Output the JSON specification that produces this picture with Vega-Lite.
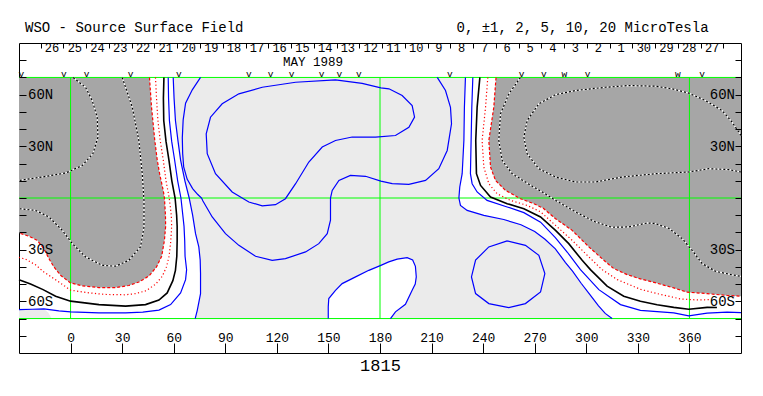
{
"$schema":"https://vega.github.io/schema/vega-lite/v6.json",
"width":722,"height":310,
"autosize":{"type":"none"},
"padding":{"left":19,"top":43,"right":22,"bottom":43},
"background":"white",
"config":{"view":{"stroke":"black","strokeWidth":1}},
"resolve":{"axis":{"x":"independent","y":"independent"}},
"datasets":{
"fills":[
{"p":"LG1","lon":59.7,"lat":70},{"p":"LG1","lon":229.7,"lat":70},{"p":"LG1","lon":229.1,"lat":52.7},{"p":"LG1","lon":228.8,"lat":33.4},{"p":"LG1","lon":227.8,"lat":14.1},{"p":"LG1","lon":226.4,"lat":6.4},{"p":"LG1","lon":225.9,"lat":0},{"p":"LG1","lon":226.8,"lat":-4.3},{"p":"LG1","lon":230.7,"lat":-7.2},{"p":"LG1","lon":240.4,"lat":-10.1},{"p":"LG1","lon":252,"lat":-12.5},{"p":"LG1","lon":262,"lat":-15.5},{"p":"LG1","lon":270,"lat":-19.5},{"p":"LG1","lon":276,"lat":-24},{"p":"LG1","lon":282,"lat":-29.5},{"p":"LG1","lon":287.9,"lat":-37.5},{"p":"LG1","lon":292,"lat":-42.5},{"p":"LG1","lon":297,"lat":-49.5},{"p":"LG1","lon":302,"lat":-56},{"p":"LG1","lon":307,"lat":-62.5},{"p":"LG1","lon":311,"lat":-67},{"p":"LG1","lon":315,"lat":-70},{"p":"LG1","lon":72.5,"lat":-70},{"p":"LG1","lon":73.7,"lat":-65.2},{"p":"LG1","lon":75.6,"lat":-55.5},{"p":"LG1","lon":75.6,"lat":-43.9},{"p":"LG1","lon":75.4,"lat":-36},{"p":"LG1","lon":74.6,"lat":-28.4},{"p":"LG1","lon":72.7,"lat":-20.7},{"p":"LG1","lon":71,"lat":-10},{"p":"LG1","lon":69,"lat":0},{"p":"LG1","lon":66.5,"lat":10},{"p":"LG1","lon":64,"lat":22},{"p":"LG1","lon":62.5,"lat":33},{"p":"LG1","lon":61,"lat":45},{"p":"LG1","lon":60.2,"lat":58},
{"p":"LG2","lon":-30,"lat":-64.8},{"p":"LG2","lon":-22,"lat":-64.6},{"p":"LG2","lon":-15.5,"lat":-64.4},{"p":"LG2","lon":-13,"lat":-66.5},{"p":"LG2","lon":-11,"lat":-70},{"p":"LG2","lon":-30,"lat":-70},
{"p":"WB","lon":149.9,"lat":-70},{"p":"WB","lon":149.9,"lat":-63.2},{"p":"WB","lon":150.2,"lat":-58.4},{"p":"WB","lon":154.1,"lat":-53.6},{"p":"WB","lon":158,"lat":-49.7},{"p":"WB","lon":165.8,"lat":-45.8},{"p":"WB","lon":173.5,"lat":-42},{"p":"WB","lon":180.5,"lat":-39.1},{"p":"WB","lon":185.1,"lat":-37.1},{"p":"WB","lon":190,"lat":-35.5},{"p":"WB","lon":195.8,"lat":-34.6},{"p":"WB","lon":199,"lat":-36},{"p":"WB","lon":200.6,"lat":-39.7},{"p":"WB","lon":201.1,"lat":-45.8},{"p":"WB","lon":200.5,"lat":-50},{"p":"WB","lon":198.7,"lat":-53.6},{"p":"WB","lon":194.8,"lat":-61.7},{"p":"WB","lon":189,"lat":-66.1},{"p":"WB","lon":186.1,"lat":-70},
{"p":"DA","lon":-30,"lat":70},{"p":"DA","lon":45.9,"lat":70},{"p":"DA","lon":47.1,"lat":52.7},{"p":"DA","lon":49,"lat":33.4},{"p":"DA","lon":50.4,"lat":22.2},{"p":"DA","lon":51.8,"lat":14.1},{"p":"DA","lon":53.9,"lat":4.4},{"p":"DA","lon":54.6,"lat":0},{"p":"DA","lon":55.2,"lat":-10},{"p":"DA","lon":55.3,"lat":-16.5},{"p":"DA","lon":54.6,"lat":-24.6},{"p":"DA","lon":53,"lat":-33.8},{"p":"DA","lon":50,"lat":-40},{"p":"DA","lon":45.6,"lat":-45.3},{"p":"DA","lon":39.7,"lat":-48.8},{"p":"DA","lon":33.9,"lat":-50.8},{"p":"DA","lon":26.2,"lat":-52},{"p":"DA","lon":16.5,"lat":-52},{"p":"DA","lon":6.8,"lat":-51},{"p":"DA","lon":0,"lat":-49.3},{"p":"DA","lon":-5.8,"lat":-44.9},{"p":"DA","lon":-9.7,"lat":-40},{"p":"DA","lon":-12.6,"lat":-35.2},{"p":"DA","lon":-15.5,"lat":-29.4},{"p":"DA","lon":-19.4,"lat":-24.6},{"p":"DA","lon":-24.2,"lat":-22.2},{"p":"DA","lon":-30,"lat":-20.3},
{"p":"DB","lon":247.5,"lat":70},{"p":"DB","lon":390,"lat":70},{"p":"DB","lon":390,"lat":-57},{"p":"DB","lon":381.9,"lat":-56.6},{"p":"DB","lon":370.3,"lat":-55.5},{"p":"DB","lon":358.7,"lat":-54.7},{"p":"DB","lon":350.9,"lat":-52.2},{"p":"DB","lon":341.2,"lat":-49.5},{"p":"DB","lon":331.5,"lat":-47},{"p":"DB","lon":323.8,"lat":-44.5},{"p":"DB","lon":316,"lat":-41},{"p":"DB","lon":311.2,"lat":-37},{"p":"DB","lon":301.5,"lat":-28.4},{"p":"DB","lon":291.8,"lat":-18.8},{"p":"DB","lon":282.1,"lat":-12},{"p":"DB","lon":275,"lat":-6},{"p":"DB","lon":269.5,"lat":-3.3},{"p":"DB","lon":261.7,"lat":-0.4},{"p":"DB","lon":253,"lat":4.4},{"p":"DB","lon":247.2,"lat":10.2},{"p":"DB","lon":244.3,"lat":18},{"p":"DB","lon":243.3,"lat":33.4},{"p":"DB","lon":246.2,"lat":52.7}
],
"lines":[
{"c":"m2L","lv":-2,"lon":45.9,"lat":70},{"c":"m2L","lv":-2,"lon":47.1,"lat":52.7},{"c":"m2L","lv":-2,"lon":49,"lat":33.4},{"c":"m2L","lv":-2,"lon":50.4,"lat":22.2},{"c":"m2L","lv":-2,"lon":51.8,"lat":14.1},{"c":"m2L","lv":-2,"lon":53.9,"lat":4.4},{"c":"m2L","lv":-2,"lon":54.6,"lat":0},{"c":"m2L","lv":-2,"lon":55.2,"lat":-10},{"c":"m2L","lv":-2,"lon":55.3,"lat":-16.5},{"c":"m2L","lv":-2,"lon":54.6,"lat":-24.6},{"c":"m2L","lv":-2,"lon":53,"lat":-33.8},{"c":"m2L","lv":-2,"lon":50,"lat":-40},{"c":"m2L","lv":-2,"lon":45.6,"lat":-45.3},{"c":"m2L","lv":-2,"lon":39.7,"lat":-48.8},{"c":"m2L","lv":-2,"lon":33.9,"lat":-50.8},{"c":"m2L","lv":-2,"lon":26.2,"lat":-52},{"c":"m2L","lv":-2,"lon":16.5,"lat":-52},{"c":"m2L","lv":-2,"lon":6.8,"lat":-51},{"c":"m2L","lv":-2,"lon":0,"lat":-49.3},{"c":"m2L","lv":-2,"lon":-5.8,"lat":-44.9},{"c":"m2L","lv":-2,"lon":-9.7,"lat":-40},{"c":"m2L","lv":-2,"lon":-12.6,"lat":-35.2},{"c":"m2L","lv":-2,"lon":-15.5,"lat":-29.4},{"c":"m2L","lv":-2,"lon":-19.4,"lat":-24.6},{"c":"m2L","lv":-2,"lon":-24.2,"lat":-22.2},{"c":"m2L","lv":-2,"lon":-30,"lat":-20.3},
{"c":"m2R","lv":-2,"lon":247.5,"lat":70},{"c":"m2R","lv":-2,"lon":246.2,"lat":52.7},{"c":"m2R","lv":-2,"lon":243.3,"lat":33.4},{"c":"m2R","lv":-2,"lon":244.3,"lat":18},{"c":"m2R","lv":-2,"lon":247.2,"lat":10.2},{"c":"m2R","lv":-2,"lon":253,"lat":4.4},{"c":"m2R","lv":-2,"lon":261.7,"lat":-0.4},{"c":"m2R","lv":-2,"lon":269.5,"lat":-3.3},{"c":"m2R","lv":-2,"lon":275,"lat":-6},{"c":"m2R","lv":-2,"lon":282.1,"lat":-12},{"c":"m2R","lv":-2,"lon":291.8,"lat":-18.8},{"c":"m2R","lv":-2,"lon":301.5,"lat":-28.4},{"c":"m2R","lv":-2,"lon":311.2,"lat":-37},{"c":"m2R","lv":-2,"lon":316,"lat":-41},{"c":"m2R","lv":-2,"lon":323.8,"lat":-44.5},{"c":"m2R","lv":-2,"lon":331.5,"lat":-47},{"c":"m2R","lv":-2,"lon":341.2,"lat":-49.5},{"c":"m2R","lv":-2,"lon":350.9,"lat":-52.2},{"c":"m2R","lv":-2,"lon":358.7,"lat":-54.7},{"c":"m2R","lv":-2,"lon":370.3,"lat":-55.5},{"c":"m2R","lv":-2,"lon":381.9,"lat":-56.6},{"c":"m2R","lv":-2,"lon":390,"lat":-57},
{"c":"m1L","lv":-1,"lon":49.4,"lat":70},{"c":"m1L","lv":-1,"lon":50,"lat":58},{"c":"m1L","lv":-1,"lon":50.8,"lat":45},{"c":"m1L","lv":-1,"lon":52.2,"lat":33},{"c":"m1L","lv":-1,"lon":53.9,"lat":22.2},{"c":"m1L","lv":-1,"lon":55.5,"lat":10},{"c":"m1L","lv":-1,"lon":57.4,"lat":0},{"c":"m1L","lv":-1,"lon":58.6,"lat":-10},{"c":"m1L","lv":-1,"lon":58.8,"lat":-16.5},{"c":"m1L","lv":-1,"lon":58.3,"lat":-25},{"c":"m1L","lv":-1,"lon":57.3,"lat":-33.8},{"c":"m1L","lv":-1,"lon":55.8,"lat":-40},{"c":"m1L","lv":-1,"lon":53.3,"lat":-45.5},{"c":"m1L","lv":-1,"lon":49.5,"lat":-50},{"c":"m1L","lv":-1,"lon":44,"lat":-53.8},{"c":"m1L","lv":-1,"lon":38,"lat":-55.5},{"c":"m1L","lv":-1,"lon":32,"lat":-56.2},{"c":"m1L","lv":-1,"lon":20,"lat":-56},{"c":"m1L","lv":-1,"lon":10,"lat":-55},{"c":"m1L","lv":-1,"lon":0,"lat":-53.5},{"c":"m1L","lv":-1,"lon":-8.7,"lat":-47.5},{"c":"m1L","lv":-1,"lon":-15.5,"lat":-43},{"c":"m1L","lv":-1,"lon":-20.4,"lat":-38.8},{"c":"m1L","lv":-1,"lon":-26.2,"lat":-35.5},{"c":"m1L","lv":-1,"lon":-30,"lat":-34.5},
{"c":"m1R","lv":-1,"lon":242.7,"lat":70},{"c":"m1R","lv":-1,"lon":241.4,"lat":52.7},{"c":"m1R","lv":-1,"lon":239.4,"lat":33.4},{"c":"m1R","lv":-1,"lon":240.4,"lat":18},{"c":"m1R","lv":-1,"lon":243.3,"lat":8.3},{"c":"m1R","lv":-1,"lon":248.1,"lat":2.5},{"c":"m1R","lv":-1,"lon":255.9,"lat":-1.4},{"c":"m1R","lv":-1,"lon":265.6,"lat":-4.3},{"c":"m1R","lv":-1,"lon":273.4,"lat":-8},{"c":"m1R","lv":-1,"lon":282.1,"lat":-15.9},{"c":"m1R","lv":-1,"lon":291.8,"lat":-24.6},{"c":"m1R","lv":-1,"lon":301.5,"lat":-34.2},{"c":"m1R","lv":-1,"lon":309.2,"lat":-41.6},{"c":"m1R","lv":-1,"lon":318,"lat":-47.4},{"c":"m1R","lv":-1,"lon":331.5,"lat":-53},{"c":"m1R","lv":-1,"lon":341.2,"lat":-55.5},{"c":"m1R","lv":-1,"lon":354.8,"lat":-58.6},{"c":"m1R","lv":-1,"lon":364.5,"lat":-59.2},{"c":"m1R","lv":-1,"lon":373,"lat":-59},
{"c":"z0L","lv":0,"lon":54.3,"lat":70},{"c":"z0L","lv":0,"lon":54,"lat":58},{"c":"z0L","lv":0,"lon":54.2,"lat":45},{"c":"z0L","lv":0,"lon":55.5,"lat":33},{"c":"z0L","lv":0,"lon":57.2,"lat":22.2},{"c":"z0L","lv":0,"lon":58.9,"lat":10},{"c":"z0L","lv":0,"lon":60.8,"lat":0},{"c":"z0L","lv":0,"lon":61.7,"lat":-10},{"c":"z0L","lv":0,"lon":62,"lat":-16.5},{"c":"z0L","lv":0,"lon":62,"lat":-25},{"c":"z0L","lv":0,"lon":61.8,"lat":-33.8},{"c":"z0L","lv":0,"lon":61,"lat":-42},{"c":"z0L","lv":0,"lon":59.5,"lat":-48},{"c":"z0L","lv":0,"lon":56.2,"lat":-55.1},{"c":"z0L","lv":0,"lon":51.4,"lat":-59.3},{"c":"z0L","lv":0,"lon":43.6,"lat":-61.9},{"c":"z0L","lv":0,"lon":32,"lat":-62.8},{"c":"z0L","lv":0,"lon":16.5,"lat":-61.9},{"c":"z0L","lv":0,"lon":0,"lat":-59.9},{"c":"z0L","lv":0,"lon":-8.7,"lat":-57},{"c":"z0L","lv":0,"lon":-16,"lat":-53.2},{"c":"z0L","lv":0,"lon":-23.3,"lat":-49.9},{"c":"z0L","lv":0,"lon":-30,"lat":-47.4},
{"c":"z0R","lv":0,"lon":238.1,"lat":70},{"c":"z0R","lv":0,"lon":236.5,"lat":52.7},{"c":"z0R","lv":0,"lon":235.7,"lat":33.4},{"c":"z0R","lv":0,"lon":236.1,"lat":14.1},{"c":"z0R","lv":0,"lon":238.5,"lat":7.3},{"c":"z0R","lv":0,"lon":244.3,"lat":0.6},{"c":"z0R","lv":0,"lon":254,"lat":-3.3},{"c":"z0R","lv":0,"lon":263.7,"lat":-6.2},{"c":"z0R","lv":0,"lon":273.4,"lat":-11},{"c":"z0R","lv":0,"lon":282.1,"lat":-18.8},{"c":"z0R","lv":0,"lon":289.8,"lat":-26.5},{"c":"z0R","lv":0,"lon":297.6,"lat":-36.2},{"c":"z0R","lv":0,"lon":302.4,"lat":-41.6},{"c":"z0R","lv":0,"lon":312.1,"lat":-51.2},{"c":"z0R","lv":0,"lon":321.8,"lat":-57},{"c":"z0R","lv":0,"lon":331.5,"lat":-60},{"c":"z0R","lv":0,"lon":341.2,"lat":-62},{"c":"z0R","lv":0,"lon":350.9,"lat":-63.5},{"c":"z0R","lv":0,"lon":359.6,"lat":-64.6},{"c":"z0R","lv":0,"lon":370.3,"lat":-63.5},{"c":"z0R","lv":0,"lon":376,"lat":-63.6},
{"c":"p1L","lv":1,"lon":56.8,"lat":70},{"c":"p1L","lv":1,"lon":57,"lat":58},{"c":"p1L","lv":1,"lon":57.5,"lat":45},{"c":"p1L","lv":1,"lon":58.8,"lat":33},{"c":"p1L","lv":1,"lon":60.5,"lat":22.2},{"c":"p1L","lv":1,"lon":62.3,"lat":10},{"c":"p1L","lv":1,"lon":64.2,"lat":0},{"c":"p1L","lv":1,"lon":65.3,"lat":-10},{"c":"p1L","lv":1,"lon":66,"lat":-16.5},{"c":"p1L","lv":1,"lon":66.4,"lat":-25},{"c":"p1L","lv":1,"lon":66.6,"lat":-33.8},{"c":"p1L","lv":1,"lon":67.5,"lat":-41.6},{"c":"p1L","lv":1,"lon":66.9,"lat":-47.4},{"c":"p1L","lv":1,"lon":64,"lat":-55.1},{"c":"p1L","lv":1,"lon":58.2,"lat":-61.9},{"c":"p1L","lv":1,"lon":51.4,"lat":-65.1},{"c":"p1L","lv":1,"lon":42,"lat":-66.3},{"c":"p1L","lv":1,"lon":32,"lat":-66.7},{"c":"p1L","lv":1,"lon":16.5,"lat":-66.7},{"c":"p1L","lv":1,"lon":0,"lat":-66.1},{"c":"p1L","lv":1,"lon":-6.8,"lat":-65.5},{"c":"p1L","lv":1,"lon":-15.5,"lat":-64.4},{"c":"p1L","lv":1,"lon":-22,"lat":-64.6},{"c":"p1L","lv":1,"lon":-30,"lat":-64.8},
{"c":"p1R","lv":1,"lon":234,"lat":70},{"c":"p1R","lv":1,"lon":233.4,"lat":52.7},{"c":"p1R","lv":1,"lon":233,"lat":33.4},{"c":"p1R","lv":1,"lon":232.6,"lat":14.1},{"c":"p1R","lv":1,"lon":233.6,"lat":8.3},{"c":"p1R","lv":1,"lon":236.5,"lat":3.5},{"c":"p1R","lv":1,"lon":242.3,"lat":-1.4},{"c":"p1R","lv":1,"lon":254,"lat":-5.2},{"c":"p1R","lv":1,"lon":263.7,"lat":-8.5},{"c":"p1R","lv":1,"lon":273.4,"lat":-14},{"c":"p1R","lv":1,"lon":282,"lat":-23},{"c":"p1R","lv":1,"lon":289,"lat":-31.5},{"c":"p1R","lv":1,"lon":296.6,"lat":-41.6},{"c":"p1R","lv":1,"lon":307.3,"lat":-53.2},{"c":"p1R","lv":1,"lon":319.9,"lat":-61.9},{"c":"p1R","lv":1,"lon":331.5,"lat":-65.2},{"c":"p1R","lv":1,"lon":350.9,"lat":-66.7},{"c":"p1R","lv":1,"lon":359.6,"lat":-68.4},{"c":"p1R","lv":1,"lon":370.3,"lat":-66.9},{"c":"p1R","lv":1,"lon":381.9,"lat":-66.3},{"c":"p1R","lv":1,"lon":390,"lat":-66.5},
{"c":"p2L","lv":2,"lon":59.7,"lat":70},{"c":"p2L","lv":2,"lon":60.2,"lat":58},{"c":"p2L","lv":2,"lon":61,"lat":45},{"c":"p2L","lv":2,"lon":62.5,"lat":33},{"c":"p2L","lv":2,"lon":64,"lat":22},{"c":"p2L","lv":2,"lon":66.5,"lat":10},{"c":"p2L","lv":2,"lon":69,"lat":0},{"c":"p2L","lv":2,"lon":71,"lat":-10},{"c":"p2L","lv":2,"lon":72.7,"lat":-20.7},{"c":"p2L","lv":2,"lon":74.6,"lat":-28.4},{"c":"p2L","lv":2,"lon":75.4,"lat":-36},{"c":"p2L","lv":2,"lon":75.6,"lat":-43.9},{"c":"p2L","lv":2,"lon":75.6,"lat":-55.5},{"c":"p2L","lv":2,"lon":73.7,"lat":-65.2},{"c":"p2L","lv":2,"lon":72.5,"lat":-70},
{"c":"p2R","lv":2,"lon":229.7,"lat":70},{"c":"p2R","lv":2,"lon":229.1,"lat":52.7},{"c":"p2R","lv":2,"lon":228.8,"lat":33.4},{"c":"p2R","lv":2,"lon":227.8,"lat":14.1},{"c":"p2R","lv":2,"lon":226.4,"lat":6.4},{"c":"p2R","lv":2,"lon":225.9,"lat":0},{"c":"p2R","lv":2,"lon":226.8,"lat":-4.3},{"c":"p2R","lv":2,"lon":230.7,"lat":-7.2},{"c":"p2R","lv":2,"lon":240.4,"lat":-10.1},{"c":"p2R","lv":2,"lon":252,"lat":-12.5},{"c":"p2R","lv":2,"lon":262,"lat":-15.5},{"c":"p2R","lv":2,"lon":270,"lat":-19.5},{"c":"p2R","lv":2,"lon":276,"lat":-24},{"c":"p2R","lv":2,"lon":282,"lat":-29.5},{"c":"p2R","lv":2,"lon":287.9,"lat":-37.5},{"c":"p2R","lv":2,"lon":292,"lat":-42.5},{"c":"p2R","lv":2,"lon":297,"lat":-49.5},{"c":"p2R","lv":2,"lon":302,"lat":-56},{"c":"p2R","lv":2,"lon":307,"lat":-62.5},{"c":"p2R","lv":2,"lon":311,"lat":-67},{"c":"p2R","lv":2,"lon":315,"lat":-70},
{"c":"p2B","lv":2,"lon":149.9,"lat":-70},{"c":"p2B","lv":2,"lon":149.9,"lat":-63.2},{"c":"p2B","lv":2,"lon":150.2,"lat":-58.4},{"c":"p2B","lv":2,"lon":154.1,"lat":-53.6},{"c":"p2B","lv":2,"lon":158,"lat":-49.7},{"c":"p2B","lv":2,"lon":165.8,"lat":-45.8},{"c":"p2B","lv":2,"lon":173.5,"lat":-42},{"c":"p2B","lv":2,"lon":180.5,"lat":-39.1},{"c":"p2B","lv":2,"lon":185.1,"lat":-37.1},{"c":"p2B","lv":2,"lon":190,"lat":-35.5},{"c":"p2B","lv":2,"lon":195.8,"lat":-34.6},{"c":"p2B","lv":2,"lon":199,"lat":-36},{"c":"p2B","lv":2,"lon":200.6,"lat":-39.7},{"c":"p2B","lv":2,"lon":201.1,"lat":-45.8},{"c":"p2B","lv":2,"lon":200.5,"lat":-50},{"c":"p2B","lv":2,"lon":198.7,"lat":-53.6},{"c":"p2B","lv":2,"lon":194.8,"lat":-61.7},{"c":"p2B","lv":2,"lon":189,"lat":-66.1},{"c":"p2B","lv":2,"lon":186.1,"lat":-70},
{"c":"p5S","lv":5,"lon":75.6,"lat":70},{"c":"p5S","lv":5,"lon":70.8,"lat":62.8},{"c":"p5S","lv":5,"lon":66.9,"lat":55.1},{"c":"p5S","lv":5,"lon":65.5,"lat":45.4},{"c":"p5S","lv":5,"lon":65,"lat":35},{"c":"p5S","lv":5,"lon":65.2,"lat":26},{"c":"p5S","lv":5,"lon":65.8,"lat":18},{"c":"p5S","lv":5,"lon":67.8,"lat":11},{"c":"p5S","lv":5,"lon":71,"lat":5.5},{"c":"p5S","lv":5,"lon":74,"lat":2},{"c":"p5S","lv":5,"lon":76.2,"lat":0},{"c":"p5S","lv":5,"lon":77,"lat":-1.8},{"c":"p5S","lv":5,"lon":82.4,"lat":-11},{"c":"p5S","lv":5,"lon":90.1,"lat":-20.7},{"c":"p5S","lv":5,"lon":97.9,"lat":-27.5},{"c":"p5S","lv":5,"lon":107.6,"lat":-33.8},{"c":"p5S","lv":5,"lon":117.3,"lat":-36.2},{"c":"p5S","lv":5,"lon":125,"lat":-35.2},{"c":"p5S","lv":5,"lon":136.7,"lat":-31.3},{"c":"p5S","lv":5,"lon":144.4,"lat":-26.5},{"c":"p5S","lv":5,"lon":149.3,"lat":-20.7},{"c":"p5S","lv":5,"lon":151.2,"lat":-12.9},{"c":"p5S","lv":5,"lon":151.2,"lat":0},{"c":"p5S","lv":5,"lon":152.2,"lat":4.4},{"c":"p5S","lv":5,"lon":156.1,"lat":10.2},{"c":"p5S","lv":5,"lon":162.8,"lat":13.1},{"c":"p5S","lv":5,"lon":171.6,"lat":12.6},{"c":"p5S","lv":5,"lon":180.5,"lat":9.8},{"c":"p5S","lv":5,"lon":187.1,"lat":8.3},{"c":"p5S","lv":5,"lon":196.8,"lat":7.9},{"c":"p5S","lv":5,"lon":206.5,"lat":10.2},{"c":"p5S","lv":5,"lon":214.2,"lat":17},{"c":"p5S","lv":5,"lon":219.1,"lat":27.6},{"c":"p5S","lv":5,"lon":221.6,"lat":43.1},{"c":"p5S","lv":5,"lon":221,"lat":52.7},{"c":"p5S","lv":5,"lon":218.1,"lat":62.4},{"c":"p5S","lv":5,"lon":213.3,"lat":70},
{"c":"p5C","lv":5,"lon":254,"lat":-24.9},{"c":"p5C","lv":5,"lon":264.6,"lat":-27.5},{"c":"p5C","lv":5,"lon":272.4,"lat":-33.3},{"c":"p5C","lv":5,"lon":275.9,"lat":-43.9},{"c":"p5C","lv":5,"lon":273.4,"lat":-54.5},{"c":"p5C","lv":5,"lon":264.6,"lat":-61.3},{"c":"p5C","lv":5,"lon":254.9,"lat":-63.6},{"c":"p5C","lv":5,"lon":243.3,"lat":-61.3},{"c":"p5C","lv":5,"lon":235.6,"lat":-55.5},{"c":"p5C","lv":5,"lon":233.2,"lat":-45.8},{"c":"p5C","lv":5,"lon":235.6,"lat":-36.1},{"c":"p5C","lv":5,"lon":243.3,"lat":-28.4},{"c":"p5C","lv":5,"lon":254,"lat":-24.9},
{"c":"p10","lv":10,"lon":180.5,"lat":63.9},{"c":"p10","lv":10,"lon":169.6,"lat":66.6},{"c":"p10","lv":10,"lon":154.1,"lat":68.6},{"c":"p10","lv":10,"lon":130.9,"lat":67.2},{"c":"p10","lv":10,"lon":111.5,"lat":64.3},{"c":"p10","lv":10,"lon":97.9,"lat":60.5},{"c":"p10","lv":10,"lon":88.2,"lat":54.7},{"c":"p10","lv":10,"lon":81.4,"lat":46.9},{"c":"p10","lv":10,"lon":78.9,"lat":37.3},{"c":"p10","lv":10,"lon":79.5,"lat":25.7},{"c":"p10","lv":10,"lon":84.3,"lat":14.1},{"c":"p10","lv":10,"lon":94,"lat":3.5},{"c":"p10","lv":10,"lon":103.7,"lat":-2.3},{"c":"p10","lv":10,"lon":111.5,"lat":-4.6},{"c":"p10","lv":10,"lon":119.2,"lat":-3.9},{"c":"p10","lv":10,"lon":125,"lat":-0.4},{"c":"p10","lv":10,"lon":130.9,"lat":8.3},{"c":"p10","lv":10,"lon":138.6,"lat":20.9},{"c":"p10","lv":10,"lon":146.4,"lat":29.6},{"c":"p10","lv":10,"lon":154.1,"lat":33.4},{"c":"p10","lv":10,"lon":163.8,"lat":35.4},{"c":"p10","lv":10,"lon":177.4,"lat":35.4},{"c":"p10","lv":10,"lon":189,"lat":36.3},{"c":"p10","lv":10,"lon":196.8,"lat":41.1},{"c":"p10","lv":10,"lon":200.1,"lat":47},{"c":"p10","lv":10,"lon":198.7,"lat":53.7},{"c":"p10","lv":10,"lon":192.9,"lat":59.5},{"c":"p10","lv":10,"lon":185.2,"lat":63.4},{"c":"p10","lv":10,"lon":180.5,"lat":63.9},
{"c":"m5La","lv":-5,"lon":1.5,"lat":70},{"c":"m5La","lv":-5,"lon":8.7,"lat":64.3},{"c":"m5La","lv":-5,"lon":12.6,"lat":56.6},{"c":"m5La","lv":-5,"lon":15.5,"lat":46.9},{"c":"m5La","lv":-5,"lon":15.9,"lat":35.3},{"c":"m5La","lv":-5,"lon":13,"lat":25.7},{"c":"m5La","lv":-5,"lon":6.8,"lat":18.9},{"c":"m5La","lv":-5,"lon":-2.9,"lat":14.5},{"c":"m5La","lv":-5,"lon":-16.5,"lat":12.2},{"c":"m5La","lv":-5,"lon":-30,"lat":10.2},
{"c":"m5Lb","lv":-5,"lon":30,"lat":70},{"c":"m5Lb","lv":-5,"lon":32,"lat":64.3},{"c":"m5Lb","lv":-5,"lon":35.9,"lat":52.7},{"c":"m5Lb","lv":-5,"lon":39.7,"lat":33.4},{"c":"m5Lb","lv":-5,"lon":41.7,"lat":14.1},{"c":"m5Lb","lv":-5,"lon":42.7,"lat":-1.4},{"c":"m5Lb","lv":-5,"lon":42.7,"lat":-16.8},{"c":"m5Lb","lv":-5,"lon":40.7,"lat":-28.4},{"c":"m5Lb","lv":-5,"lon":33.9,"lat":-36.2},{"c":"m5Lb","lv":-5,"lon":26.2,"lat":-39.6},{"c":"m5Lb","lv":-5,"lon":18.4,"lat":-39.1},{"c":"m5Lb","lv":-5,"lon":8.7,"lat":-34.2},{"c":"m5Lb","lv":-5,"lon":1,"lat":-26.5},{"c":"m5Lb","lv":-5,"lon":-4.8,"lat":-18.8},{"c":"m5Lb","lv":-5,"lon":-12.6,"lat":-11},{"c":"m5Lb","lv":-5,"lon":-20.4,"lat":-7.2},{"c":"m5Lb","lv":-5,"lon":-30,"lat":-6.2},
{"c":"m5R","lv":-5,"lon":261.7,"lat":70},{"c":"m5R","lv":-5,"lon":255,"lat":60.5},{"c":"m5R","lv":-5,"lon":250.1,"lat":48.9},{"c":"m5R","lv":-5,"lon":249.1,"lat":33.4},{"c":"m5R","lv":-5,"lon":251.1,"lat":21.8},{"c":"m5R","lv":-5,"lon":256.9,"lat":14.1},{"c":"m5R","lv":-5,"lon":266.6,"lat":8},{"c":"m5R","lv":-5,"lon":276,"lat":2.5},{"c":"m5R","lv":-5,"lon":284,"lat":-2.5},{"c":"m5R","lv":-5,"lon":293.7,"lat":-8.1},{"c":"m5R","lv":-5,"lon":305.3,"lat":-13.9},{"c":"m5R","lv":-5,"lon":315,"lat":-17},{"c":"m5R","lv":-5,"lon":324.7,"lat":-16.8},{"c":"m5R","lv":-5,"lon":335.4,"lat":-14.5},{"c":"m5R","lv":-5,"lon":340,"lat":-14.8},{"c":"m5R","lv":-5,"lon":348,"lat":-17.6},{"c":"m5R","lv":-5,"lon":355.8,"lat":-23.6},{"c":"m5R","lv":-5,"lon":361.6,"lat":-30.4},{"c":"m5R","lv":-5,"lon":367.4,"lat":-38.1},{"c":"m5R","lv":-5,"lon":375.1,"lat":-42.5},{"c":"m5R","lv":-5,"lon":384.8,"lat":-44.6},{"c":"m5R","lv":-5,"lon":390,"lat":-45.5},
{"c":"m10R","lv":-10,"lon":390,"lat":36.3},{"c":"m10R","lv":-10,"lon":384.8,"lat":44.1},{"c":"m10R","lv":-10,"lon":379,"lat":50.8},{"c":"m10R","lv":-10,"lon":369.3,"lat":56.6},{"c":"m10R","lv":-10,"lon":359.6,"lat":60.9},{"c":"m10R","lv":-10,"lon":349.9,"lat":63.4},{"c":"m10R","lv":-10,"lon":340.2,"lat":64.9},{"c":"m10R","lv":-10,"lon":324.7,"lat":65.3},{"c":"m10R","lv":-10,"lon":311.2,"lat":64.3},{"c":"m10R","lv":-10,"lon":293.7,"lat":62.4},{"c":"m10R","lv":-10,"lon":282.1,"lat":60},{"c":"m10R","lv":-10,"lon":272.4,"lat":54.7},{"c":"m10R","lv":-10,"lon":265.6,"lat":45},{"c":"m10R","lv":-10,"lon":263.7,"lat":35.3},{"c":"m10R","lv":-10,"lon":265.6,"lat":25.7},{"c":"m10R","lv":-10,"lon":272.4,"lat":17},{"c":"m10R","lv":-10,"lon":282.1,"lat":12.2},{"c":"m10R","lv":-10,"lon":293.7,"lat":9.3},{"c":"m10R","lv":-10,"lon":305.3,"lat":9.3},{"c":"m10R","lv":-10,"lon":320.9,"lat":12.2},{"c":"m10R","lv":-10,"lon":340.2,"lat":14.1},{"c":"m10R","lv":-10,"lon":359.6,"lat":15.1},{"c":"m10R","lv":-10,"lon":371.3,"lat":17},{"c":"m10R","lv":-10,"lon":382.9,"lat":16.5},{"c":"m10R","lv":-10,"lon":390,"lat":15.1}
],
"grid":[
{"lon":-30,"lon2":390,"lat":70,"lat2":70},{"lon":-30,"lon2":390,"lat":0,"lat2":0},{"lon":-30,"lon2":390,"lat":-70,"lat2":-70},{"lon":0,"lon2":0,"lat":-70,"lat2":70},{"lon":180,"lon2":180,"lat":-70,"lat2":70},{"lon":360,"lon2":360,"lat":-70,"lat2":70}
],
"vmarks":[
{"lon":-28.6,"t":"v"},{"lon":-3.9,"t":"v"},{"lon":9.3,"t":"v"},{"lon":34.9,"t":"v"},{"lon":63.0,"t":"v"},{"lon":103.7,"t":"v"},{"lon":116.3,"t":"v"},{"lon":128.5,"t":"v"},{"lon":146.0,"t":"v"},{"lon":156.4,"t":"v"},{"lon":167.7,"t":"v"},{"lon":220.7,"t":"v"},{"lon":262.3,"t":"v"},{"lon":275.3,"t":"v"},{"lon":287.3,"t":"w"},{"lon":300.7,"t":"v"},{"lon":353.3,"t":"w"},{"lon":367.4,"t":"v"}
],
"days":[
{"lon":-10.8,"t":"26"},{"lon":2.5,"t":"25"},{"lon":15.7,"t":"24"},{"lon":28.9,"t":"23"},{"lon":42.2,"t":"22"},{"lon":55.4,"t":"21"},{"lon":68.7,"t":"20"},{"lon":81.9,"t":"19"},{"lon":95.1,"t":"18"},{"lon":108.4,"t":"17"},{"lon":121.6,"t":"16"},{"lon":134.9,"t":"15"},{"lon":148.1,"t":"14"},{"lon":161.3,"t":"13"},{"lon":174.6,"t":"12"},{"lon":187.8,"t":"11"},{"lon":201.1,"t":"10"},{"lon":214.3,"t":"9"},{"lon":227.5,"t":"8"},{"lon":240.8,"t":"7"},{"lon":254.0,"t":"6"},{"lon":267.3,"t":"5"},{"lon":280.5,"t":"4"},{"lon":293.7,"t":"3"},{"lon":307.0,"t":"2"},{"lon":320.2,"t":"1"},{"lon":333.5,"t":"30"},{"lon":346.7,"t":"29"},{"lon":359.9,"t":"28"},{"lon":373.2,"t":"27"}
],
"heads":[
{"lon":-26.5,"t":"WSO - Source Surface Field"},{"lon":224.5,"t":"0, ±1, 2, 5, 10, 20 MicroTesla"}
]
},
"layer":[
{"data":{"name":"fills"},"transform":[{"filter":{"field":"p","oneOf":["LG1","LG2"]}}],
 "mark":{"type":"line","filled":true,"color":"#ebebeb","strokeWidth":0,"strokeOpacity":0},
 "encoding":{"x":{"field":"lon","type":"quantitative","scale":{"domain":[-30,390],"nice":false,"zero":false},"axis":null},
  "y":{"field":"lat","type":"quantitative","scale":{"domain":[-90,90],"nice":false,"zero":false},"axis":null},
  "detail":{"field":"p"},"order":{"value":null}}},
{"data":{"name":"fills"},"transform":[{"filter":{"field":"p","equal":"WB"}}],
 "mark":{"type":"line","filled":true,"color":"#ffffff","strokeWidth":0,"strokeOpacity":0},
 "encoding":{"x":{"field":"lon","type":"quantitative","scale":{"domain":[-30,390],"nice":false,"zero":false},"axis":null},
  "y":{"field":"lat","type":"quantitative","scale":{"domain":[-90,90],"nice":false,"zero":false},"axis":null},
  "detail":{"field":"p"},"order":{"value":null}}},
{"data":{"name":"fills"},"transform":[{"filter":{"field":"p","oneOf":["DA","DB"]}}],
 "mark":{"type":"line","filled":true,"color":"#a6a6a6","strokeWidth":0,"strokeOpacity":0},
 "encoding":{"x":{"field":"lon","type":"quantitative","scale":{"domain":[-30,390],"nice":false,"zero":false},"axis":null},
  "y":{"field":"lat","type":"quantitative","scale":{"domain":[-90,90],"nice":false,"zero":false},"axis":null},
  "detail":{"field":"p"},"order":{"value":null}}},
{"data":{"name":"grid"},
 "mark":{"type":"rule","color":"#00ff00","strokeWidth":1},
 "encoding":{"x":{"field":"lon","type":"quantitative","scale":{"domain":[-30,390],"nice":false,"zero":false},
   "axis":{"orient":"bottom","values":[0,30,60,90,120,150,180,210,240,270,300,330,360],"tickSize":-10,"labelPadding":-1.6,"labelBaseline":"alphabetic","labelFont":"Liberation Mono","labelFontSize":13,"labelColor":"black","tickColor":"black","domain":false,"grid":false,"title":null,"zindex":1,"labelFlush":false,"labelOverlap":false}},
  "x2":{"field":"lon2"},
  "y":{"field":"lat","type":"quantitative","scale":{"domain":[-90,90],"nice":false,"zero":false},
   "axis":{"orient":"left","values":[-80,-70,-60,-50,-40,-30,-20,-10,0,10,20,30,40,50,60,70,80],"tickSize":-7,"labelPadding":-1.5,"labelAlign":"left","labelBaseline":"middle","labelExpr":"datum.value==60?'60N':datum.value==30?'30N':datum.value==-30?'30S':datum.value==-60?'60S':''","labelFont":"Liberation Mono","labelFontSize":14,"labelColor":"black","tickColor":"black","domain":false,"grid":false,"title":null,"zindex":1,"labelOverlap":false,"labelBound":false}},
  "y2":{"field":"lat2"}}},
{"data":{"name":"lines"},"transform":[{"filter":{"field":"lv","lte":-5}}],
 "mark":{"type":"line","color":"#ffffff","strokeWidth":1.2},
 "encoding":{"x":{"field":"lon","type":"quantitative","scale":{"domain":[-30,390],"nice":false,"zero":false},"axis":null},
  "y":{"field":"lat","type":"quantitative","scale":{"domain":[-90,90],"nice":false,"zero":false},"axis":null},
  "detail":{"field":"c"},"order":{"value":null}}},
{"data":{"name":"lines"},"transform":[{"filter":{"field":"lv","lte":-5}}],
 "mark":{"type":"line","color":"#000000","strokeWidth":1.2,"strokeDash":[2,2]},
 "encoding":{"x":{"field":"lon","type":"quantitative","scale":{"domain":[-30,390],"nice":false,"zero":false},"axis":null},
  "y":{"field":"lat","type":"quantitative","scale":{"domain":[-90,90],"nice":false,"zero":false},"axis":null},
  "detail":{"field":"c"},"order":{"value":null}}},
{"data":{"name":"lines"},"transform":[{"filter":{"field":"lv","equal":-2}}],
 "mark":{"type":"line","color":"#ff0000","strokeWidth":1.2,"strokeDash":[3,2]},
 "encoding":{"x":{"field":"lon","type":"quantitative","scale":{"domain":[-30,390],"nice":false,"zero":false},"axis":null},
  "y":{"field":"lat","type":"quantitative","scale":{"domain":[-90,90],"nice":false,"zero":false},"axis":null},
  "detail":{"field":"c"},"order":{"value":null}}},
{"data":{"name":"lines"},"transform":[{"filter":{"field":"lv","equal":-1}}],
 "mark":{"type":"line","color":"#ff0000","strokeWidth":1.2,"strokeDash":[1.2,2.4]},
 "encoding":{"x":{"field":"lon","type":"quantitative","scale":{"domain":[-30,390],"nice":false,"zero":false},"axis":null},
  "y":{"field":"lat","type":"quantitative","scale":{"domain":[-90,90],"nice":false,"zero":false},"axis":null},
  "detail":{"field":"c"},"order":{"value":null}}},
{"data":{"name":"lines"},"transform":[{"filter":{"field":"lv","equal":0}}],
 "mark":{"type":"line","color":"#000000","strokeWidth":1.6},
 "encoding":{"x":{"field":"lon","type":"quantitative","scale":{"domain":[-30,390],"nice":false,"zero":false},"axis":null},
  "y":{"field":"lat","type":"quantitative","scale":{"domain":[-90,90],"nice":false,"zero":false},"axis":null},
  "detail":{"field":"c"},"order":{"value":null}}},
{"data":{"name":"lines"},"transform":[{"filter":{"field":"lv","gt":0}}],
 "mark":{"type":"line","color":"#0000ff","strokeWidth":1.2},
 "encoding":{"x":{"field":"lon","type":"quantitative","scale":{"domain":[-30,390],"nice":false,"zero":false},"axis":null},
  "y":{"field":"lat","type":"quantitative","scale":{"domain":[-90,90],"nice":false,"zero":false},"axis":null},
  "detail":{"field":"c"},"order":{"value":null}}},
{"data":{"name":"vmarks"},
 "mark":{"type":"text","color":"#000000","font":"Liberation Mono","fontSize":9.5,"align":"center","baseline":"alphabetic"},
 "encoding":{"x":{"field":"lon","type":"quantitative","scale":{"domain":[-30,390],"nice":false,"zero":false},
   "axis":{"orient":"top","values":[-17.4,-4.2,9.1,22.3,35.6,48.8,62.0,75.3,88.5,101.8,115.0,128.2,141.5,154.7,168.0,181.2,194.4,207.7,220.9,234.2,247.4,260.6,273.9,287.1,300.4,313.6,326.8,340.1,353.3,366.6,379.8],"tickSize":-5,"labels":false,"tickColor":"black","domain":false,"grid":false,"title":null,"zindex":1}},
  "y":{"datum":70,"type":"quantitative","scale":{"domain":[-90,90],"nice":false,"zero":false},
   "axis":{"orient":"right","values":[-80,-70,-60,-50,-40,-30,-20,-10,0,10,20,30,40,50,60,70,80],"tickSize":-6,"labelPadding":-0.5,"labelAlign":"right","labelBaseline":"middle","labelExpr":"datum.value==60?'60N':datum.value==30?'30N':datum.value==-30?'30S':datum.value==-60?'60S':''","labelFont":"Liberation Mono","labelFontSize":14,"labelColor":"black","tickColor":"black","domain":false,"grid":false,"title":null,"zindex":1,"labelOverlap":false,"labelBound":false}},
  "text":{"field":"t"}}},
{"data":{"name":"days"},
 "mark":{"type":"text","color":"#000000","font":"Liberation Mono","fontSize":12,"align":"center","baseline":"middle"},
 "encoding":{"x":{"field":"lon","type":"quantitative","scale":{"domain":[-30,390],"nice":false,"zero":false},"axis":null},
  "y":{"datum":87.3,"type":"quantitative","scale":{"domain":[-90,90],"nice":false,"zero":false},"axis":null},
  "text":{"field":"t"}}},
{"data":{"name":"heads"},
 "mark":{"type":"text","color":"#000000","font":"Liberation Mono","fontSize":14,"align":"left","baseline":"alphabetic"},
 "encoding":{"x":{"field":"lon","type":"quantitative","scale":{"domain":[-30,390],"nice":false,"zero":false},"axis":null},
  "y":{"datum":96.4,"type":"quantitative","scale":{"domain":[-90,90],"nice":false,"zero":false},"axis":null},
  "text":{"field":"t"}}},
{"data":{"values":[{"lon":141,"t":"MAY 1989"}]},
 "mark":{"type":"text","color":"#000000","font":"Liberation Mono","fontSize":12.5,"align":"center","baseline":"middle"},
 "encoding":{"x":{"field":"lon","type":"quantitative","scale":{"domain":[-30,390],"nice":false,"zero":false},"axis":null},
  "y":{"datum":79.1,"type":"quantitative","scale":{"domain":[-90,90],"nice":false,"zero":false},"axis":null},
  "text":{"field":"t"}}},
{"data":{"values":[{"lon":180.3,"t":"1815"}]},
 "mark":{"type":"text","color":"#000000","font":"Liberation Mono","fontSize":17,"align":"center","baseline":"middle"},
 "encoding":{"x":{"field":"lon","type":"quantitative","scale":{"domain":[-30,390],"nice":false,"zero":false},"axis":null},
  "y":{"datum":-97.6,"type":"quantitative","scale":{"domain":[-90,90],"nice":false,"zero":false},"axis":null},
  "text":{"field":"t"}}}
]
}
